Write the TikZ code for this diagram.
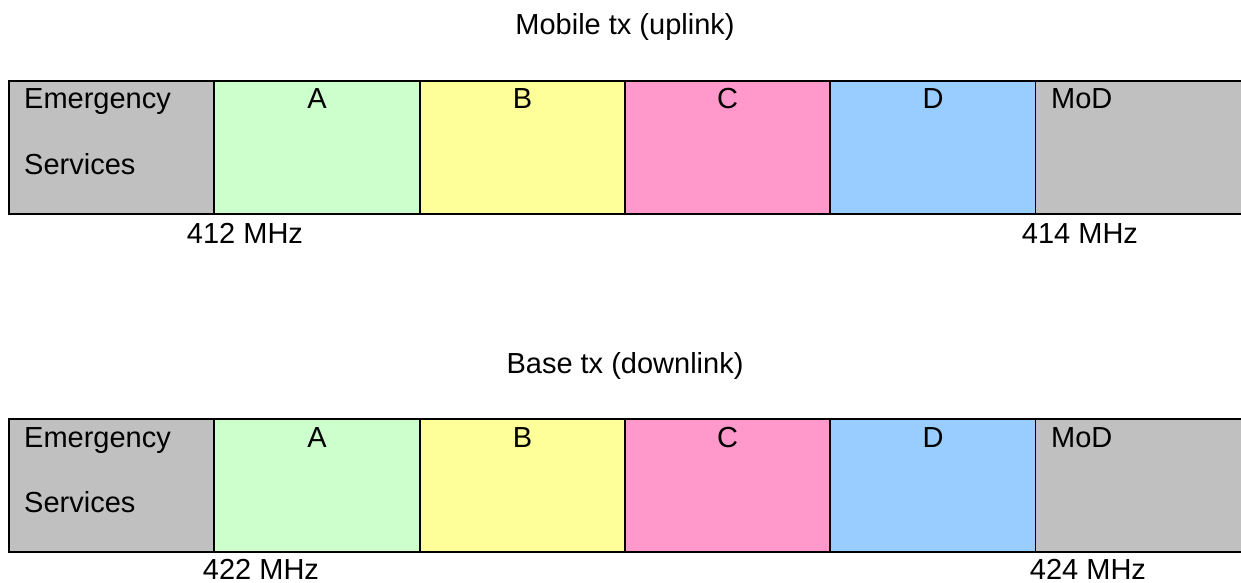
\documentclass[tikz,border=0pt]{standalone}
\usepackage{fontspec}
\setmainfont{Liberation Sans}
\definecolor{esgray}{HTML}{C0C0C0}
\definecolor{bandA}{HTML}{CCFFCC}
\definecolor{bandB}{HTML}{FFFF99}
\definecolor{bandC}{HTML}{FF99CC}
\definecolor{bandD}{HTML}{99CCFF}
\tikzset{
  cell/.style={draw=black, line width=2pt, anchor=north west, minimum height=133pt, inner sep=0pt, outer sep=0pt},
  lbl/.style={inner sep=0pt, font=\fontsize{29}{34}\selectfont},
}
\begin{document}
\begin{tikzpicture}[x=1pt,y=-1pt]
\useasboundingbox (0,0) rectangle (1241,583);
\fill[white] (0,0) rectangle (1241,583);
% ---- uplink row ----
\node[lbl, anchor=base] (t1) at (625,35) {Mobile tx (uplink)};
\node[cell, fill=esgray, minimum width=205pt] (e1) at (9,81) {};
\node[cell, fill=bandA, minimum width=206pt] (a1) at (214,81) {};
\node[cell, fill=bandB, minimum width=205pt] (b1) at (420,81) {};
\node[cell, fill=bandC, minimum width=205pt] (c1) at (625,81) {};
\node[cell, fill=bandD, minimum width=206pt] (d1) at (830,81) {};
\fill[esgray] (1036,81) rectangle (1241,214);
\coordinate (m1t) at (1241,81);
\coordinate (m1b) at (1241,214);
\draw[line width=2pt] (d1.north east) -- (m1t);
\draw[line width=2pt] (d1.south east) -- (m1b);
\node[lbl, anchor=base west] (es1a) at (24,109) {Emergency};
\node[lbl, anchor=base west] (es1b) at (24,174) {Services};
\node[lbl, anchor=base] (la1) at (317,109) {A};
\node[lbl, anchor=base] (lb1) at (522.5,109) {B};
\node[lbl, anchor=base] (lc1) at (727.5,109) {C};
\node[lbl, anchor=base] (ld1) at (933,109) {D};
\node[lbl, anchor=base west] (lm1) at (1051,109) {MoD};
\node[lbl, anchor=base] (f1) at (245,243) {412 MHz};
\node[lbl, anchor=base] (f2) at (1080,243) {414 MHz};
% ---- downlink row ----
\node[lbl, anchor=base] (t2) at (625,373) {Base tx (downlink)};
\node[cell, fill=esgray, minimum width=205pt] (e2) at (9,419) {};
\node[cell, fill=bandA, minimum width=206pt] (a2) at (214,419) {};
\node[cell, fill=bandB, minimum width=205pt] (b2) at (420,419) {};
\node[cell, fill=bandC, minimum width=205pt] (c2) at (625,419) {};
\node[cell, fill=bandD, minimum width=206pt] (d2) at (830,419) {};
\fill[esgray] (1036,419) rectangle (1241,552);
\coordinate (m2t) at (1241,419);
\coordinate (m2b) at (1241,552);
\draw[line width=2pt] (d2.north east) -- (m2t);
\draw[line width=2pt] (d2.south east) -- (m2b);
\node[lbl, anchor=base west] (es2a) at (24,447) {Emergency};
\node[lbl, anchor=base west] (es2b) at (24,512) {Services};
\node[lbl, anchor=base] (la2) at (317,447) {A};
\node[lbl, anchor=base] (lb2) at (522.5,447) {B};
\node[lbl, anchor=base] (lc2) at (727.5,447) {C};
\node[lbl, anchor=base] (ld2) at (933,447) {D};
\node[lbl, anchor=base west] (lm2) at (1051,447) {MoD};
\node[lbl, anchor=base] (f3) at (261,579) {422 MHz};
\node[lbl, anchor=base] (f4) at (1088,579) {424 MHz};
\end{tikzpicture}
\end{document}
